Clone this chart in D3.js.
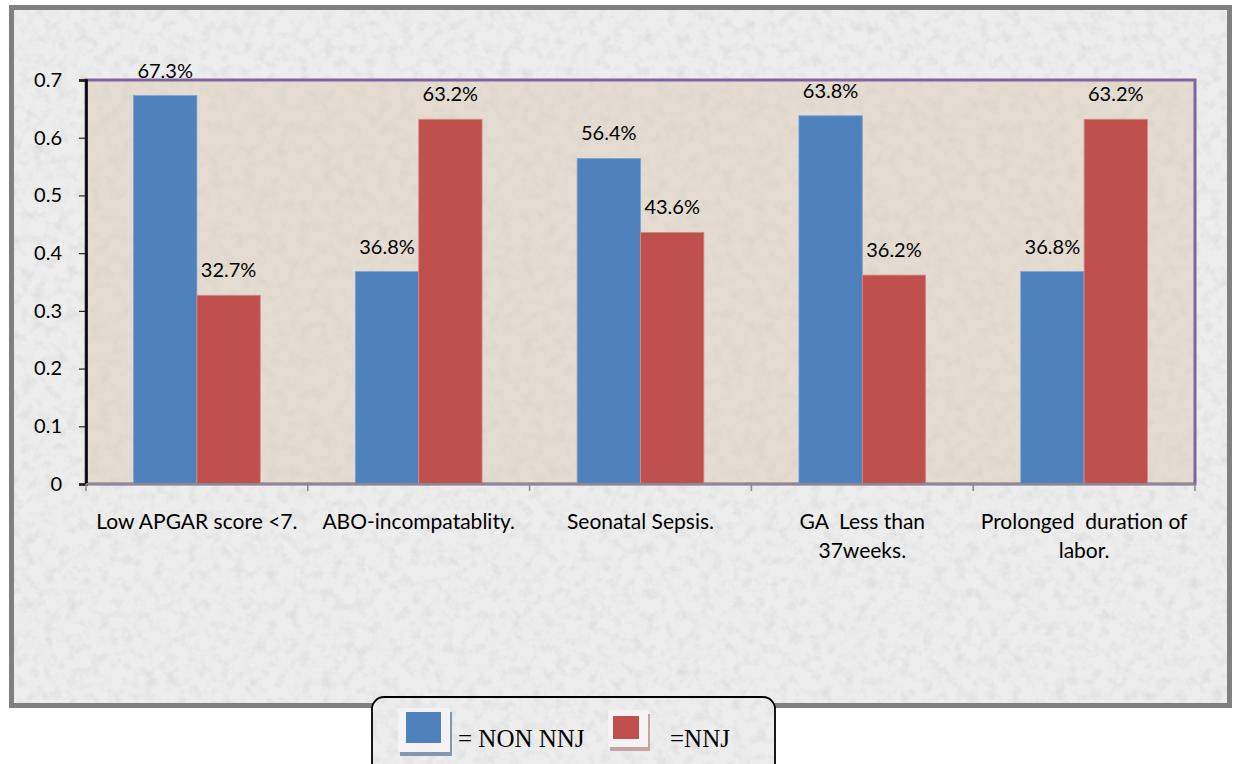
<!DOCTYPE html>
<html>
<head>
<meta charset="utf-8">
<script src="https://cdn.jsdelivr.net/npm/d3@7"></script>
<style>
  html, body { margin: 0; padding: 0; background: #ffffff; }
  svg { display: block; }
</style>
</head>
<body>
<svg id="chart" width="1234" height="764"></svg>
<script>
// Risk factors compared between NON NNJ and NNJ groups
const categories = [
  ["Low APGAR score <7."],
  ["ABO-incompatablity."],
  ["Seonatal Sepsis."],
  ["GA  Less than", "37weeks."],
  ["Prolonged  duration of", "labor."]
];
const nonNnj = [0.673, 0.368, 0.564, 0.638, 0.368];
const nnj    = [0.327, 0.632, 0.436, 0.362, 0.632];
const seriesNames = ["NON NNJ", "NNJ"];
const legendLabels = ["= NON NNJ", "=NNJ"];
const yTicks = [0, 0.1, 0.2, 0.3, 0.4, 0.5, 0.6, 0.7];
const seriesColors = ["#4f81bd", "#c0504d"];

const svg = d3.select("#chart");
const defs = svg.append("defs");

// Mottled paper texture used by the backgrounds
const grain = defs.append("filter").attr("id", "grain")
  .attr("x", 0).attr("y", 0).attr("width", "100%").attr("height", "100%");
grain.append("feTurbulence").attr("type", "fractalNoise")
  .attr("baseFrequency", "0.09").attr("numOctaves", 4).attr("seed", 7).attr("result", "n");
grain.append("feColorMatrix").attr("type", "matrix")
  .attr("values", "0 0 0 0 0.45  0 0 0 0 0.45  0 0 0 0 0.45  1.6 0 0 0 -0.72");

const plot = { left: 86, right: 1195, top: 80, bottom: 484 };
const sans = "Lato, 'Open Sans', sans-serif";

// Outer frame
svg.append("rect").attr("x", 11.5).attr("y", 7.5).attr("width", 1218).attr("height", 698)
  .attr("fill", "#ededed");
svg.append("rect").attr("x", 11.5).attr("y", 7.5).attr("width", 1218).attr("height", 698)
  .attr("fill", "#000").attr("filter", "url(#grain)").attr("opacity", 0.35);
svg.append("rect").attr("x", 11.5).attr("y", 7.5).attr("width", 1218).attr("height", 698)
  .attr("fill", "none").attr("stroke", "#808080").attr("stroke-width", 5);

// Plot area
svg.append("rect").attr("x", plot.left).attr("y", plot.top)
  .attr("width", plot.right - plot.left).attr("height", plot.bottom - plot.top)
  .attr("fill", "#e4dcd0");
svg.append("rect").attr("x", plot.left).attr("y", plot.top)
  .attr("width", plot.right - plot.left).attr("height", plot.bottom - plot.top)
  .attr("fill", "#000").attr("filter", "url(#grain)").attr("opacity", 0.22);
svg.append("rect").attr("x", plot.left).attr("y", plot.top)
  .attr("width", plot.right - plot.left).attr("height", plot.bottom - plot.top)
  .attr("fill", "none").attr("stroke", "#8064a2").attr("stroke-width", 3);

// Scales
const x0 = d3.scaleBand().domain(d3.range(categories.length))
  .range([plot.left, plot.right]).paddingInner(3 / 7).paddingOuter(3 / 14);
const x1 = d3.scaleBand().domain(d3.range(seriesNames.length)).range([0, x0.bandwidth()]);
const y = d3.scaleLinear().domain([0, 0.7]).range([plot.bottom, plot.top]);

const rows = categories.map((c, i) => ({ i, values: [nonNnj[i], nnj[i]] }));

// Bars
const groups = svg.append("g").selectAll("g").data(rows).join("g")
  .attr("transform", d => `translate(${x0(d.i)},0)`);
groups.selectAll("rect").data(d => d.values.map((v, s) => ({ v, s }))).join("rect")
  .attr("x", d => x1(d.s))
  .attr("y", d => y(d.v))
  .attr("width", x1.bandwidth())
  .attr("height", d => y(0) - y(d.v))
  .attr("fill", d => seriesColors[d.s])
  .attr("stroke", d => d.s === 0 ? "#7fa2d0" : "#d88a88")
  .attr("stroke-width", 0.8);

// Value labels
groups.selectAll("text").data(d => d.values.map((v, s) => ({ v, s }))).join("text")
  .attr("x", d => x1(d.s) + x1.bandwidth() / 2)
  .attr("y", d => y(d.v) - 18)
  .attr("text-anchor", "middle")
  .attr("font-family", sans)
  .attr("font-size", 20)
  .attr("fill", "#000")
  .text(d => (d.v * 100).toFixed(1) + "%");

// Y axis
const yAxis = svg.append("g").attr("transform", `translate(${plot.left},0)`)
  .call(d3.axisLeft(y).tickValues(yTicks).tickSize(7).tickPadding(17)
    .tickFormat(d => d === 0 ? "0" : d3.format(".1f")(d)));
yAxis.select(".domain").attr("stroke", "#000").attr("stroke-width", 2.5);
yAxis.selectAll(".tick line").attr("stroke", "#222").attr("stroke-width", 1.2);
yAxis.selectAll(".tick text").attr("font-family", sans)
  .attr("font-size", 20).attr("fill", "#000");

// X axis (category boundaries)
const bounds = d3.range(categories.length + 1).map(k => plot.left + k * x0.step());
const xAxis = svg.append("g");
xAxis.append("line").attr("x1", plot.left).attr("x2", plot.right)
  .attr("y1", plot.bottom).attr("y2", plot.bottom)
  .attr("stroke", "#8a8a8a").attr("stroke-width", 2);
xAxis.selectAll("line.tick").data(bounds).join("line").attr("class", "tick")
  .attr("x1", d => d).attr("x2", d => d)
  .attr("y1", plot.bottom).attr("y2", plot.bottom + 7)
  .attr("stroke", "#8a8a8a").attr("stroke-width", 1.5);

const catText = xAxis.selectAll("text").data(rows).join("text")
  .attr("x", d => x0(d.i) + x0.bandwidth() / 2)
  .attr("y", 529)
  .attr("text-anchor", "middle")
  .attr("font-family", sans)
  .attr("font-size", 21)
  .attr("fill", "#000")
  .attr("xml:space", "preserve");
catText.selectAll("tspan").data(d => categories[d.i]).join("tspan")
  .attr("x", function () { return d3.select(this.parentNode).attr("x"); })
  .attr("dy", (d, k) => k === 0 ? 0 : 29)
  .text(d => d);

// Legend
const lg = svg.append("g");
lg.append("rect").attr("x", 372).attr("y", 697).attr("width", 403).attr("height", 90)
  .attr("rx", 12).attr("fill", "#ededed");
lg.append("rect").attr("x", 372).attr("y", 697).attr("width", 403).attr("height", 90)
  .attr("rx", 12).attr("fill", "#000").attr("filter", "url(#grain)").attr("opacity", 0.35);
lg.append("rect").attr("x", 372).attr("y", 697).attr("width", 403).attr("height", 90)
  .attr("rx", 12).attr("fill", "none").attr("stroke", "#000").attr("stroke-width", 1.8);

const swatches = [
  { frame: [398, 708, 52, 44], inner: [406, 712, 35, 31], shadow: "#8597b0", tx: 458 },
  { frame: [608, 710, 40, 37], inner: [613, 716, 26, 23], shadow: "#c7a3a3", tx: 670 }
];
swatches.forEach((s, k) => {
  lg.append("rect").attr("x", s.frame[0] + 2).attr("y", s.frame[1] + 4)
    .attr("width", s.frame[2]).attr("height", s.frame[3]).attr("fill", s.shadow);
  lg.append("rect").attr("x", s.frame[0]).attr("y", s.frame[1])
    .attr("width", s.frame[2]).attr("height", s.frame[3]).attr("fill", "#f4f2f2");
  lg.append("rect").attr("x", s.inner[0]).attr("y", s.inner[1])
    .attr("width", s.inner[2]).attr("height", s.inner[3]).attr("fill", seriesColors[k]);
  lg.append("text").attr("x", s.tx).attr("y", 747)
    .attr("font-family", "'Liberation Serif', 'DejaVu Serif', serif")
    .attr("font-size", 25).attr("fill", "#000")
    .text(legendLabels[k]);
});
</script>
</body>
</html>
